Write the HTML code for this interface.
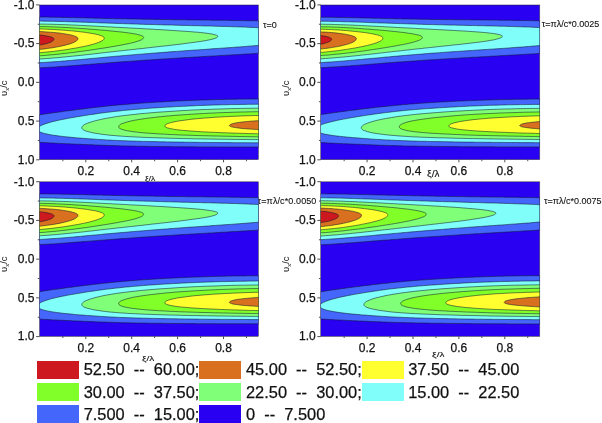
<!DOCTYPE html>
<html><head><meta charset="utf-8"><title>Contour plots</title>
<style>
html,body{margin:0;padding:0;background:#fff}
body{width:602px;height:423px;position:relative;overflow:hidden;font-family:"Liberation Sans",sans-serif;color:#111}
.t{position:absolute;z-index:2;white-space:pre;line-height:1;-webkit-text-stroke:0.25px #111}
.yt{font-size:12px;text-align:right;width:40px}
.xt{font-size:12px;text-align:center;width:40px}
.lab{font-size:9px;-webkit-text-stroke:0.1px #111}
.ax{font-size:7px;transform-origin:0 0;-webkit-text-stroke:0.1px #111}
.yl{font-size:9.4px;transform:rotate(-90deg);transform-origin:0 0;-webkit-text-stroke:0}
.yl sub{font-size:6px;vertical-align:-2px;line-height:0}
.lg{font-size:16.4px}
.sw{position:absolute;width:42px;height:18px}
</style></head><body>
<svg width="602" height="423" viewBox="0 0 602 423" style="position:absolute;left:0;top:0;z-index:1">
<defs><clipPath id="pc0"><rect x="0.4" y="0" width="218.90" height="154.70"/></clipPath><clipPath id="pc1"><rect x="0.3" y="0" width="219.00" height="154.70"/></clipPath></defs>
<g transform="translate(39.20 5.00)">
<g clip-path="url(#pc0)">
<rect x="0" y="0" width="219.30" height="154.70" fill="#2a00f2"/>
<path d="M-1 12.1L2 12.1L5 12.1L8 12.1L11 12.2L14 12.2L17 12.3L20 12.3L23 12.4L26 12.4L29 12.5L32 12.6L35 12.6L38 12.7L41 12.8L44 12.8L47 12.9L50 13L53 13.1L56 13.2L59 13.2L62 13.3L65 13.4L68 13.5L71 13.5L74 13.6L77 13.7L80 13.7L83 13.8L86 13.8L89 13.9L92 14L95 14L98 14.1L101 14.1L104 14.2L107 14.2L110 14.3L113 14.3L116 14.4L119 14.4L122 14.5L125 14.5L128 14.6L131 14.6L134 14.7L137 14.7L140 14.7L143 14.8L146 14.8L149 14.9L152 14.9L155 14.9L158 15L161 15L164 15L167 15.1L170 15.1L173 15.2L176 15.2L179 15.2L182 15.3L185 15.3L188 15.3L191 15.4L194 15.4L197 15.5L200 15.5L203 15.6L206 15.6L209 15.7L212 15.7L215 15.8L218 15.8L220.2 15.9L220.2 48.2L218 48.4L215 48.6L212 48.8L209 48.9L206 49.1L203 49.3L200 49.5L197 49.7L194 49.8L191 50L188 50.2L185 50.4L182 50.5L179 50.7L176 50.9L173 51.1L170 51.2L167 51.4L164 51.6L161 51.8L158 51.9L155 52.1L152 52.3L149 52.5L146 52.6L143 52.8L140 53L137 53.2L134 53.4L131 53.6L128 53.8L125 53.9L122 54.1L119 54.3L116 54.5L113 54.7L110 54.9L107 55.1L104 55.3L101 55.5L98 55.8L95 56L92 56.2L89 56.4L86 56.6L83 56.8L80 57L77 57.3L74 57.5L71 57.7L68 57.9L65 58.2L62 58.4L59 58.6L56 58.9L53 59.1L50 59.4L47 59.6L44 59.8L41 60.1L38 60.3L35 60.5L32 60.8L29 61L26 61.2L23 61.4L20 61.6L17 61.9L14 62.1L11 62.2L8 62.4L5 62.6L2 62.8L-1 62.9Z" fill="#4466fa" stroke="#101830" stroke-width="0.55" stroke-linejoin="round"/>
<path d="M-1 16.1L2 16.1L5 16.2L8 16.2L11 16.3L14 16.3L17 16.4L20 16.5L23 16.5L26 16.6L29 16.7L32 16.8L35 16.9L38 17L41 17.1L44 17.2L47 17.3L50 17.4L53 17.5L56 17.6L59 17.8L62 17.9L65 18L68 18.1L71 18.2L74 18.3L77 18.4L80 18.5L83 18.6L86 18.7L89 18.8L92 18.9L95 19L98 19.1L101 19.2L104 19.3L107 19.4L110 19.4L113 19.5L116 19.6L119 19.7L122 19.8L125 19.9L128 20L131 20L134 20.1L137 20.2L140 20.3L143 20.4L146 20.4L149 20.5L152 20.6L155 20.7L158 20.7L161 20.8L164 20.9L167 21L170 21L173 21.1L176 21.2L179 21.3L182 21.4L185 21.4L188 21.5L191 21.6L194 21.7L197 21.8L200 21.9L203 22L206 22.1L209 22.3L212 22.4L215 22.5L218 22.7L220.2 22.8L220.2 40.3L218 40.5L215 40.7L212 41L209 41.2L206 41.5L203 41.7L200 41.9L197 42.1L194 42.4L191 42.6L188 42.8L185 43L182 43.2L179 43.4L176 43.6L173 43.8L170 44.1L167 44.3L164 44.5L161 44.7L158 44.9L155 45.1L152 45.3L149 45.5L146 45.7L143 46L140 46.2L137 46.4L134 46.6L131 46.8L128 47.1L125 47.3L122 47.5L119 47.8L116 48L113 48.2L110 48.5L107 48.7L104 49L101 49.2L98 49.4L95 49.7L92 49.9L89 50.2L86 50.5L83 50.7L80 51L77 51.2L74 51.5L71 51.8L68 52L65 52.3L62 52.6L59 52.9L56 53.2L53 53.4L50 53.7L47 54L44 54.3L41 54.6L38 54.8L35 55.1L32 55.4L29 55.6L26 55.9L23 56.1L20 56.4L17 56.6L14 56.8L11 57L8 57.2L5 57.4L2 57.6L-1 57.8Z" fill="#80fffa" stroke="#101830" stroke-width="0.55" stroke-linejoin="round"/>
<path d="M-1 19L2 19.1L5 19.1L8 19.2L11 19.2L14 19.3L17 19.4L20 19.5L23 19.6L26 19.7L29 19.8L32 20L35 20.1L38 20.2L41 20.4L44 20.5L47 20.7L50 20.8L53 21L56 21.1L59 21.3L62 21.5L65 21.6L68 21.8L71 21.9L74 22.1L77 22.3L80 22.4L83 22.6L86 22.7L89 22.9L92 23.1L95 23.2L98 23.4L101 23.5L104 23.7L107 23.9L110 24L113 24.2L116 24.4L119 24.6L122 24.7L125 24.9L128 25.1L131 25.3L134 25.5L137 25.7L140 25.9L143 26.1L146 26.3L149 26.5L152 26.7L155 27L158 27.2L161 27.5L164 27.8L167 28.2L170 28.6L173 29.1L176 29.8L176.5 29.9L177.3 30.2L177.8 30.5L178.2 30.7L178.3 30.9L178.5 31.1L178.5 31.3L178.5 31.3L178.5 31.6L178.3 31.8L178.2 32.1L177.8 32.4L177.3 32.7L176.5 33.1L176 33.3L173 34.2L170 34.9L167 35.5L164 36L161 36.5L158 36.9L155 37.3L152 37.7L149 38.1L146 38.5L143 38.9L140 39.3L137 39.6L134 40L131 40.3L128 40.7L125 41L122 41.3L119 41.7L116 42L113 42.3L110 42.7L107 43L104 43.4L101 43.7L98 44L95 44.4L92 44.7L89 45L86 45.3L83 45.7L80 46L77 46.3L74 46.7L71 47L68 47.3L65 47.7L62 48L59 48.4L56 48.7L53 49.1L50 49.4L47 49.7L44 50.1L41 50.4L38 50.7L35 51L32 51.3L29 51.6L26 51.9L23 52.2L20 52.5L17 52.8L14 53L11 53.3L8 53.5L5 53.7L2 53.9L-1 54.1Z" fill="#80ff78" stroke="#101830" stroke-width="0.55" stroke-linejoin="round"/>
<path d="M-1 21.5L2 21.6L5 21.6L8 21.7L11 21.8L14 21.9L17 22L20 22.2L23 22.3L26 22.5L29 22.6L32 22.8L35 23L38 23.2L41 23.4L44 23.6L47 23.8L50 24.1L53 24.3L56 24.5L59 24.8L62 25.1L65 25.3L68 25.6L71 25.9L74 26.2L77 26.5L80 26.8L83 27.1L86 27.5L89 27.9L92 28.3L95 28.8L98 29.4L101 30.2L102.4 30.7L103.2 31L103.7 31.3L104 31.6L104 31.6L104.2 31.9L104.4 32.1L104.4 32.4L104.4 32.4L104.4 32.7L104.2 33.1L104 33.4L104 33.4L103.7 33.8L103.2 34.2L102.4 34.7L101 35.3L98 36.4L95 37.3L92 38L89 38.7L86 39.3L83 39.9L80 40.4L77 41L74 41.5L71 42L68 42.5L65 43L62 43.4L59 43.9L56 44.4L53 44.8L50 45.3L47 45.7L44 46.1L41 46.5L38 46.9L35 47.3L32 47.7L29 48L26 48.4L23 48.7L20 49.1L17 49.4L14 49.7L11 49.9L8 50.2L5 50.5L2 50.7L-1 50.9Z" fill="#80ff28" stroke="#101830" stroke-width="0.55" stroke-linejoin="round"/>
<path d="M-1 23.9L2 24L5 24.1L8 24.2L11 24.4L14 24.5L17 24.7L20 24.9L23 25.1L26 25.3L29 25.6L32 25.8L35 26.1L38 26.4L41 26.8L44 27.1L47 27.5L50 28L53 28.5L56 29L59 29.7L62 30.7L63 31.1L63.8 31.5L64.3 31.9L64.7 32.2L64.8 32.5L65 32.8L65 33.1L65 33.1L65 33.5L64.8 33.9L64.7 34.2L64.3 34.7L63.8 35.2L63 35.7L62 36.3L59 37.6L56 38.6L53 39.5L50 40.3L47 41L44 41.6L41 42.2L38 42.8L35 43.3L32 43.8L29 44.3L26 44.8L23 45.2L20 45.6L17 46L14 46.4L11 46.7L8 47L5 47.3L2 47.6L-1 47.8Z" fill="#ffff30" stroke="#101830" stroke-width="0.55" stroke-linejoin="round"/>
<path d="M-1 26.5L2 26.6L5 26.8L8 27L11 27.2L14 27.4L17 27.7L20 28L23 28.4L26 28.9L29 29.4L32 30L35 30.9L36.7 31.5L37.5 32L38 32.3L38 32.3L38.4 32.7L38.6 33L38.7 33.3L38.7 33.6L38.7 33.6L38.7 34L38.6 34.4L38.4 34.8L38 35.2L38 35.2L37.5 35.7L36.7 36.3L35 37.3L32 38.5L29 39.4L26 40.2L23 40.9L20 41.6L17 42.1L14 42.7L11 43.1L8 43.5L5 43.9L2 44.3L-1 44.5Z" fill="#d87020" stroke="#101830" stroke-width="0.55" stroke-linejoin="round"/>
<path d="M-1 29.9L2 30.1L5 30.5L8 31L11 31.7L12.7 32.2L13.5 32.6L14 33L14 33L14.4 33.3L14.6 33.5L14.7 33.8L14.7 34.1L14.7 34.1L14.7 34.5L14.6 34.8L14.4 35.2L14 35.6L14 35.6L13.5 36L12.7 36.6L11 37.4L8 38.4L5 39.2L2 39.8L-1 40.3Z" fill="#cc181e" stroke="#101830" stroke-width="0.55" stroke-linejoin="round"/>
<path d="M-1 110.1L2 109.6L5 109.1L8 108.7L11 108.2L14 107.8L17 107.4L20 107L23 106.6L26 106.1L29 105.8L32 105.4L35 105L38 104.6L41 104.2L44 103.9L47 103.5L50 103.1L53 102.8L56 102.4L59 102.1L62 101.8L65 101.4L68 101.1L71 100.8L74 100.5L77 100.2L80 99.9L83 99.7L86 99.4L89 99.2L92 98.9L95 98.7L98 98.4L101 98.2L104 98L107 97.8L110 97.6L113 97.4L116 97.2L119 97L122 96.9L125 96.7L128 96.5L131 96.4L134 96.2L137 96.1L140 95.9L143 95.8L146 95.7L149 95.5L152 95.4L155 95.3L158 95.2L161 95.1L164 95L167 94.9L170 94.8L173 94.7L176 94.6L179 94.5L182 94.5L185 94.4L188 94.3L191 94.3L194 94.2L197 94.2L200 94.1L203 94.1L206 94.1L209 94L212 94L215 94L218 94L220.2 94L220.2 142L218 142L215 142L212 142L209 142L206 142L203 142L200 142L197 142L194 142L191 142L188 142L185 142L182 142L179 142L176 141.9L173 141.9L170 141.9L167 141.9L164 141.9L161 141.9L158 141.9L155 141.8L152 141.8L149 141.8L146 141.8L143 141.7L140 141.7L137 141.7L134 141.7L131 141.6L128 141.6L125 141.6L122 141.5L119 141.5L116 141.5L113 141.4L110 141.4L107 141.3L104 141.3L101 141.2L98 141.2L95 141.1L92 141.1L89 141L86 140.9L83 140.9L80 140.8L77 140.7L74 140.6L71 140.5L68 140.4L65 140.3L62 140.2L59 140.1L56 140L53 139.8L50 139.7L47 139.6L44 139.5L41 139.3L38 139.2L35 139.1L32 138.9L29 138.8L26 138.7L23 138.5L20 138.4L17 138.2L14 138.1L11 137.9L8 137.7L5 137.6L2 137.4L-1 137.2Z" fill="#4466fa" stroke="#101830" stroke-width="0.55" stroke-linejoin="round"/>
<path d="M-1 122.4L2 120.4L5 119.2L8 118.2L11 117.3L14 116.5L17 115.8L20 115.1L23 114.5L26 113.9L29 113.3L32 112.8L35 112.3L38 111.7L41 111.3L44 110.8L47 110.3L50 109.8L53 109.4L56 109L59 108.5L62 108.1L65 107.7L68 107.3L71 107L74 106.6L77 106.3L80 106L83 105.6L86 105.3L89 105.1L92 104.8L95 104.5L98 104.3L101 104L104 103.8L107 103.5L110 103.3L113 103.1L116 102.9L119 102.7L122 102.5L125 102.3L128 102.1L131 102L134 101.8L137 101.6L140 101.5L143 101.3L146 101.2L149 101L152 100.9L155 100.8L158 100.6L161 100.5L164 100.4L167 100.3L170 100.2L173 100.1L176 100L179 99.9L182 99.8L185 99.8L188 99.7L191 99.6L194 99.6L197 99.5L200 99.5L203 99.4L206 99.4L209 99.3L212 99.3L215 99.3L218 99.2L220.2 99.2L220.2 137.8L218 137.8L215 137.8L212 137.8L209 137.7L206 137.7L203 137.7L200 137.7L197 137.7L194 137.7L191 137.6L188 137.6L185 137.6L182 137.6L179 137.5L176 137.5L173 137.5L170 137.5L167 137.4L164 137.4L161 137.4L158 137.3L155 137.3L152 137.2L149 137.2L146 137.2L143 137.1L140 137.1L137 137L134 137L131 136.9L128 136.9L125 136.8L122 136.8L119 136.7L116 136.6L113 136.6L110 136.5L107 136.4L104 136.4L101 136.3L98 136.2L95 136.1L92 136L89 135.9L86 135.8L83 135.7L80 135.6L77 135.4L74 135.3L71 135.1L68 135L65 134.8L62 134.6L59 134.4L56 134.2L53 134L50 133.8L47 133.6L44 133.3L41 133.1L38 132.9L35 132.6L32 132.3L29 132L26 131.7L23 131.4L20 131L17 130.6L14 130.2L11 129.7L8 129.1L5 128.4L2 127.5L-1 125.9Z" fill="#80fffa" stroke="#101830" stroke-width="0.55" stroke-linejoin="round"/>
<path d="M42.6 122.8L42.6 122.4L42.8 122L43 121.6L43.3 121.1L43.8 120.6L44.6 120L45.6 119.4L48.6 118.1L51.6 117.1L54.6 116.2L57.6 115.4L60.6 114.7L63.6 114L66.6 113.4L69.6 112.9L72.6 112.4L75.6 111.9L78.6 111.4L81.6 111L84.6 110.6L87.6 110.3L90.6 109.9L93.6 109.6L96.6 109.3L99.6 108.9L102.6 108.6L105.6 108.4L108.6 108.1L111.6 107.8L114.6 107.6L117.6 107.3L120.6 107.1L123.6 106.9L126.6 106.7L129.6 106.5L132.6 106.3L135.6 106.1L138.6 105.9L141.6 105.7L144.6 105.5L147.6 105.4L150.6 105.2L153.6 105L156.6 104.9L159.6 104.8L162.6 104.6L165.6 104.5L168.6 104.4L171.6 104.3L174.6 104.2L177.6 104.1L180.6 104L183.6 103.9L186.6 103.8L189.6 103.7L192.6 103.6L195.6 103.5L198.6 103.5L201.6 103.4L204.6 103.4L207.6 103.3L210.6 103.3L213.6 103.2L216.6 103.2L219.6 103.1L220.2 103.1L220.2 134.7L219.6 134.7L216.6 134.6L213.6 134.6L210.6 134.6L207.6 134.5L204.6 134.5L201.6 134.5L198.6 134.4L195.6 134.4L192.6 134.4L189.6 134.3L186.6 134.3L183.6 134.2L180.6 134.2L177.6 134.2L174.6 134.1L171.6 134.1L168.6 134L165.6 134L162.6 133.9L159.6 133.9L156.6 133.8L153.6 133.8L150.6 133.7L147.6 133.6L144.6 133.6L141.6 133.5L138.6 133.4L135.6 133.3L132.6 133.3L129.6 133.2L126.6 133.1L123.6 133L120.6 132.9L117.6 132.8L114.6 132.7L111.6 132.6L108.6 132.5L105.6 132.4L102.6 132.3L99.6 132.1L96.6 132L93.6 131.8L90.6 131.7L87.6 131.5L84.6 131.3L81.6 131.1L78.6 130.9L75.6 130.6L72.6 130.4L69.6 130.1L66.6 129.7L63.6 129.4L60.6 128.9L57.6 128.5L54.6 128L51.6 127.3L48.6 126.6L45.6 125.6L44.6 125.1L43.8 124.6L43.3 124.2L43 123.8L42.8 123.5L42.6 123.2L42.6 122.8Z" fill="#80ff78" stroke="#101830" stroke-width="0.55" stroke-linejoin="round"/>
<path d="M79.5 121.8L79.5 121.4L79.7 121.1L79.8 120.7L80.2 120.3L80.7 119.9L81.5 119.3L82.5 118.8L85.5 117.7L88.5 116.8L91.5 116.1L94.5 115.4L97.5 114.9L100.5 114.4L103.5 113.9L106.5 113.5L109.5 113.1L112.5 112.7L115.5 112.4L118.5 112L121.5 111.7L124.5 111.4L127.5 111.1L130.5 110.9L133.5 110.6L136.5 110.3L139.5 110.1L142.5 109.9L145.5 109.7L148.5 109.5L151.5 109.3L154.5 109.1L157.5 108.9L160.5 108.7L163.5 108.6L166.5 108.4L169.5 108.2L172.5 108.1L175.5 108L178.5 107.8L181.5 107.7L184.5 107.6L187.5 107.5L190.5 107.4L193.5 107.3L196.5 107.2L199.5 107.1L202.5 107L205.5 107L208.5 106.9L211.5 106.8L214.5 106.8L217.5 106.7L220.2 106.7L220.2 131.8L217.5 131.8L214.5 131.7L211.5 131.7L208.5 131.6L205.5 131.6L202.5 131.5L199.5 131.5L196.5 131.4L193.5 131.4L190.5 131.3L187.5 131.2L184.5 131.2L181.5 131.1L178.5 131L175.5 131L172.5 130.9L169.5 130.8L166.5 130.7L163.5 130.7L160.5 130.6L157.5 130.5L154.5 130.4L151.5 130.3L148.5 130.2L145.5 130.1L142.5 130L139.5 129.9L136.5 129.7L133.5 129.6L130.5 129.5L127.5 129.3L124.5 129.1L121.5 129L118.5 128.8L115.5 128.6L112.5 128.4L109.5 128.2L106.5 128L103.5 127.7L100.5 127.4L97.5 127.1L94.5 126.7L91.5 126.3L88.5 125.8L85.5 125.2L82.5 124.3L81.5 123.9L80.7 123.5L80.2 123.1L79.8 122.8L79.7 122.5L79.5 122.2L79.5 121.8Z" fill="#80ff28" stroke="#101830" stroke-width="0.55" stroke-linejoin="round"/>
<path d="M125.7 121L125.7 120.7L125.9 120.4L126 120.1L126.4 119.8L126.9 119.4L127.7 119L128.7 118.5L131.7 117.6L134.7 116.9L137.7 116.3L140.7 115.8L143.7 115.4L146.7 115L149.7 114.6L152.7 114.2L155.7 113.9L158.7 113.6L161.7 113.4L164.7 113.1L167.7 112.9L170.7 112.7L173.7 112.4L176.7 112.2L179.7 112.1L182.7 111.9L185.7 111.7L188.7 111.6L191.7 111.4L194.7 111.3L197.7 111.2L200.7 111L203.7 110.9L206.7 110.8L209.7 110.7L212.7 110.6L215.7 110.5L218.7 110.5L220.2 110.4L220.2 128.8L218.7 128.8L215.7 128.7L212.7 128.6L209.7 128.6L206.7 128.5L203.7 128.4L200.7 128.3L197.7 128.2L194.7 128.1L191.7 128L188.7 127.9L185.7 127.8L182.7 127.7L179.7 127.6L176.7 127.4L173.7 127.3L170.7 127.2L167.7 127L164.7 126.9L161.7 126.7L158.7 126.5L155.7 126.3L152.7 126.1L149.7 125.9L146.7 125.6L143.7 125.4L140.7 125.1L137.7 124.7L134.7 124.3L131.7 123.7L128.7 123L127.7 122.7L126.9 122.3L126.4 122L126 121.8L125.9 121.5L125.7 121.3L125.7 121Z" fill="#ffff30" stroke="#101830" stroke-width="0.55" stroke-linejoin="round"/>
<path d="M190.2 120.6L190.2 120.3L190.4 120.1L190.6 119.9L190.9 119.6L191.4 119.4L192.2 119L193.2 118.7L196.2 118L199.2 117.5L202.2 117.1L205.2 116.8L208.2 116.5L211.2 116.2L214.2 116L217.2 115.8L220.2 115.6L220.2 115.6L220.2 124.7L220.2 124.7L217.2 124.5L214.2 124.3L211.2 124.1L208.2 123.9L205.2 123.7L202.2 123.4L199.2 123L196.2 122.6L193.2 122.1L192.2 121.8L191.4 121.5L190.9 121.3L190.6 121.1L190.4 120.9L190.2 120.8L190.2 120.6Z" fill="#d87020" stroke="#101830" stroke-width="0.55" stroke-linejoin="round"/>
</g>
<rect x="0.15" y="0" width="219.15" height="154.70" fill="none" stroke="#202030" stroke-width="0.5"/>
<path d="M0.15 -0.10h-3.2M0.15 19.26h-1.6M0.15 38.62h-3.2M0.15 57.99h-1.6M0.15 77.35h-3.2M0.15 96.71h-1.6M0.15 116.08h-3.2M0.15 135.44h-1.6M0.15 154.80h-3.2M23.65 154.70v1.5M46.60 154.70v2.6M69.55 154.70v1.5M92.50 154.70v2.6M115.45 154.70v1.5M138.40 154.70v2.6M161.35 154.70v1.5M184.30 154.70v2.6M207.25 154.70v1.5" stroke="#222" stroke-width="0.8" fill="none"/>
</g>
<g transform="translate(320.50 5.00)">
<g clip-path="url(#pc1)">
<rect x="0" y="0" width="219.30" height="154.70" fill="#2a00f2"/>
<path d="M-1 12.2L2 12.2L5 12.2L8 12.3L11 12.3L14 12.3L17 12.4L20 12.4L23 12.5L26 12.5L29 12.6L32 12.7L35 12.7L38 12.8L41 12.9L44 13L47 13L50 13.1L53 13.2L56 13.3L59 13.3L62 13.4L65 13.5L68 13.6L71 13.6L74 13.7L77 13.8L80 13.8L83 13.9L86 13.9L89 14L92 14.1L95 14.1L98 14.2L101 14.2L104 14.3L107 14.3L110 14.4L113 14.4L116 14.5L119 14.5L122 14.5L125 14.6L128 14.6L131 14.6L134 14.7L137 14.7L140 14.7L143 14.8L146 14.8L149 14.8L152 14.9L155 14.9L158 14.9L161 15L164 15L167 15L170 15.1L173 15.1L176 15.1L179 15.2L182 15.2L185 15.2L188 15.3L191 15.3L194 15.4L197 15.4L200 15.4L203 15.5L206 15.5L209 15.6L212 15.6L215 15.7L218 15.8L220.2 15.8L220.2 48.3L218 48.5L215 48.7L212 48.9L209 49L206 49.2L203 49.4L200 49.6L197 49.8L194 49.9L191 50.1L188 50.3L185 50.5L182 50.6L179 50.8L176 51L173 51.1L170 51.3L167 51.5L164 51.7L161 51.8L158 52L155 52.2L152 52.3L149 52.5L146 52.7L143 52.8L140 53L137 53.2L134 53.4L131 53.5L128 53.7L125 53.9L122 54.1L119 54.3L116 54.5L113 54.7L110 54.8L107 55L104 55.2L101 55.4L98 55.6L95 55.9L92 56.1L89 56.3L86 56.5L83 56.7L80 56.9L77 57.1L74 57.4L71 57.6L68 57.8L65 58L62 58.3L59 58.5L56 58.8L53 59L50 59.2L47 59.5L44 59.7L41 59.9L38 60.2L35 60.4L32 60.6L29 60.9L26 61.1L23 61.3L20 61.5L17 61.7L14 61.9L11 62.1L8 62.3L5 62.5L2 62.6L-1 62.8Z" fill="#4466fa" stroke="#101830" stroke-width="0.55" stroke-linejoin="round"/>
<path d="M-1 16.3L2 16.3L5 16.3L8 16.3L11 16.4L14 16.4L17 16.5L20 16.6L23 16.7L26 16.8L29 16.8L32 16.9L35 17L38 17.1L41 17.2L44 17.3L47 17.5L50 17.6L53 17.7L56 17.8L59 17.9L62 18L65 18.1L68 18.2L71 18.3L74 18.4L77 18.5L80 18.6L83 18.7L86 18.8L89 18.9L92 19L95 19.1L98 19.2L101 19.3L104 19.4L107 19.5L110 19.5L113 19.6L116 19.7L119 19.8L122 19.8L125 19.9L128 20L131 20.1L134 20.1L137 20.2L140 20.3L143 20.3L146 20.4L149 20.5L152 20.5L155 20.6L158 20.7L161 20.7L164 20.8L167 20.9L170 20.9L173 21L176 21.1L179 21.2L182 21.2L185 21.3L188 21.4L191 21.5L194 21.6L197 21.7L200 21.8L203 21.9L206 22L209 22.1L212 22.2L215 22.4L218 22.5L220.2 22.6L220.2 40.4L218 40.6L215 40.9L212 41.1L209 41.4L206 41.6L203 41.9L200 42.1L197 42.3L194 42.5L191 42.7L188 43L185 43.2L182 43.4L179 43.6L176 43.8L173 44L170 44.2L167 44.4L164 44.6L161 44.8L158 45L155 45.2L152 45.4L149 45.6L146 45.8L143 46L140 46.2L137 46.4L134 46.6L131 46.8L128 47L125 47.2L122 47.4L119 47.7L116 47.9L113 48.1L110 48.3L107 48.6L104 48.8L101 49.1L98 49.3L95 49.5L92 49.8L89 50L86 50.3L83 50.5L80 50.8L77 51.1L74 51.3L71 51.6L68 51.9L65 52.1L62 52.4L59 52.7L56 53L53 53.3L50 53.5L47 53.8L44 54.1L41 54.4L38 54.6L35 54.9L32 55.2L29 55.4L26 55.7L23 56L20 56.2L17 56.4L14 56.7L11 56.9L8 57.1L5 57.3L2 57.5L-1 57.6Z" fill="#80fffa" stroke="#101830" stroke-width="0.55" stroke-linejoin="round"/>
<path d="M-1 19.2L2 19.2L5 19.3L8 19.3L11 19.4L14 19.5L17 19.6L20 19.7L23 19.8L26 19.9L29 20L32 20.1L35 20.3L38 20.4L41 20.6L44 20.7L47 20.9L50 21L53 21.2L56 21.3L59 21.5L62 21.6L65 21.8L68 22L71 22.1L74 22.3L77 22.5L80 22.6L83 22.8L86 22.9L89 23.1L92 23.2L95 23.4L98 23.6L101 23.7L104 23.9L107 24L110 24.2L113 24.4L116 24.5L119 24.7L122 24.8L125 25L128 25.2L131 25.3L134 25.5L137 25.7L140 25.8L143 26L146 26.2L149 26.4L152 26.6L155 26.8L158 27L161 27.3L164 27.5L167 27.8L170 28.2L173 28.5L176 29L179 29.7L179.8 29.9L180.6 30.2L181.1 30.4L181.4 30.7L181.6 30.9L181.8 31.1L181.8 31.3L181.8 31.3L181.8 31.6L181.6 31.8L181.4 32.1L181.1 32.4L180.6 32.7L179.8 33L179 33.3L176 34.2L173 34.9L170 35.4L167 35.9L164 36.4L161 36.8L158 37.2L155 37.5L152 37.9L149 38.3L146 38.6L143 38.9L140 39.3L137 39.6L134 39.9L131 40.2L128 40.6L125 40.9L122 41.2L119 41.5L116 41.8L113 42.2L110 42.5L107 42.8L104 43.1L101 43.5L98 43.8L95 44.1L92 44.4L89 44.8L86 45.1L83 45.4L80 45.8L77 46.1L74 46.4L71 46.8L68 47.1L65 47.4L62 47.8L59 48.1L56 48.5L53 48.8L50 49.2L47 49.5L44 49.8L41 50.1L38 50.5L35 50.8L32 51.1L29 51.4L26 51.7L23 52L20 52.3L17 52.5L14 52.8L11 53.1L8 53.3L5 53.5L2 53.7L-1 53.9Z" fill="#80ff78" stroke="#101830" stroke-width="0.55" stroke-linejoin="round"/>
<path d="M-1 21.7L2 21.8L5 21.8L8 21.9L11 22L14 22.1L17 22.2L20 22.4L23 22.5L26 22.7L29 22.9L32 23L35 23.2L38 23.4L41 23.6L44 23.9L47 24.1L50 24.3L53 24.6L56 24.8L59 25.1L62 25.3L65 25.6L68 25.9L71 26.2L74 26.5L77 26.8L80 27.2L83 27.5L86 27.9L89 28.4L92 28.8L95 29.4L98 30.1L99.8 30.7L100.6 31.1L101 31.3L101.1 31.4L101.5 31.7L101.7 31.9L101.8 32.2L101.8 32.4L101.8 32.4L101.8 32.8L101.7 33.1L101.5 33.4L101.1 33.8L101 33.9L100.6 34.2L99.8 34.7L98 35.5L95 36.5L92 37.4L89 38.1L86 38.8L83 39.4L80 40L77 40.5L74 41.1L71 41.6L68 42.1L65 42.6L62 43.1L59 43.6L56 44L53 44.5L50 44.9L47 45.4L44 45.8L41 46.2L38 46.6L35 47L32 47.4L29 47.8L26 48.1L23 48.5L20 48.8L17 49.1L14 49.4L11 49.7L8 50L5 50.2L2 50.4L-1 50.6Z" fill="#80ff28" stroke="#101830" stroke-width="0.55" stroke-linejoin="round"/>
<path d="M-1 24.2L2 24.3L5 24.3L8 24.5L11 24.6L14 24.8L17 24.9L20 25.1L23 25.4L26 25.6L29 25.9L32 26.2L35 26.5L38 26.8L41 27.2L44 27.5L47 28L50 28.5L53 29L56 29.7L59 30.6L60.3 31.1L61.1 31.5L61.6 31.9L61.9 32.2L62 32.3L62.1 32.5L62.3 32.8L62.3 33.1L62.3 33.1L62.3 33.5L62.1 33.9L62 34.2L61.9 34.3L61.6 34.7L61.1 35.2L60.3 35.8L59 36.5L56 37.8L53 38.8L50 39.6L47 40.4L44 41.1L41 41.7L38 42.3L35 42.9L32 43.4L29 43.9L26 44.4L23 44.8L20 45.3L17 45.7L14 46L11 46.4L8 46.7L5 47L2 47.3L-1 47.5Z" fill="#ffff30" stroke="#101830" stroke-width="0.55" stroke-linejoin="round"/>
<path d="M-1 26.8L2 27L5 27.1L8 27.3L11 27.5L14 27.8L17 28.1L20 28.5L23 28.9L26 29.4L29 30.1L32 30.9L33.8 31.6L34.6 32L35 32.3L35.1 32.4L35.5 32.7L35.7 33L35.8 33.3L35.8 33.7L35.8 33.7L35.8 34.1L35.7 34.4L35.5 34.8L35.1 35.3L35 35.4L34.6 35.8L33.8 36.4L32 37.4L29 38.6L26 39.5L23 40.3L20 41L17 41.6L14 42.1L11 42.6L8 43.1L5 43.5L2 43.8L-1 44.1Z" fill="#d87020" stroke="#101830" stroke-width="0.55" stroke-linejoin="round"/>
<path d="M-1 30.5L2 30.8L5 31.3L8 32L9.1 32.4L9.9 32.8L10.4 33.1L10.7 33.4L10.9 33.6L11 33.7L11.1 33.9L11.1 34.2L11.1 34.2L11.1 34.5L11 34.8L10.9 34.9L10.7 35.2L10.4 35.6L9.9 36L9.1 36.5L8 37.1L5 38.1L2 38.9L-1 39.5Z" fill="#cc181e" stroke="#101830" stroke-width="0.55" stroke-linejoin="round"/>
<path d="M-1 109.8L2 109.3L5 108.9L8 108.4L11 108L14 107.6L17 107.2L20 106.8L23 106.4L26 106L29 105.6L32 105.2L35 104.9L38 104.5L41 104.1L44 103.7L47 103.4L50 103L53 102.7L56 102.3L59 102L62 101.7L65 101.4L68 101.1L71 100.8L74 100.5L77 100.2L80 99.9L83 99.6L86 99.4L89 99.1L92 98.9L95 98.7L98 98.4L101 98.2L104 98L107 97.8L110 97.6L113 97.5L116 97.3L119 97.1L122 96.9L125 96.8L128 96.6L131 96.4L134 96.3L137 96.1L140 96L143 95.9L146 95.7L149 95.6L152 95.5L155 95.4L158 95.3L161 95.2L164 95.1L167 95L170 94.9L173 94.8L176 94.7L179 94.6L182 94.6L185 94.5L188 94.4L191 94.4L194 94.3L197 94.3L200 94.3L203 94.2L206 94.2L209 94.1L212 94.1L215 94.1L218 94.1L220.2 94.1L220.2 141.9L218 141.9L215 141.9L212 141.9L209 141.9L206 141.9L203 141.9L200 141.9L197 141.9L194 141.9L191 141.9L188 141.9L185 141.9L182 141.9L179 141.9L176 141.9L173 141.8L170 141.8L167 141.8L164 141.8L161 141.8L158 141.8L155 141.8L152 141.7L149 141.7L146 141.7L143 141.7L140 141.7L137 141.6L134 141.6L131 141.6L128 141.5L125 141.5L122 141.5L119 141.4L116 141.4L113 141.4L110 141.3L107 141.3L104 141.3L101 141.2L98 141.2L95 141.1L92 141.1L89 141L86 141L83 140.9L80 140.8L77 140.7L74 140.6L71 140.6L68 140.5L65 140.4L62 140.3L59 140.2L56 140L53 139.9L50 139.8L47 139.7L44 139.6L41 139.4L38 139.3L35 139.2L32 139.1L29 138.9L26 138.8L23 138.7L20 138.6L17 138.4L14 138.3L11 138.1L8 138L5 137.8L2 137.6L-1 137.5Z" fill="#4466fa" stroke="#101830" stroke-width="0.55" stroke-linejoin="round"/>
<path d="M-1 120.5L2 119.3L5 118.3L8 117.4L11 116.7L14 116L17 115.3L20 114.7L23 114.1L26 113.6L29 113L32 112.5L35 112L38 111.5L41 111L44 110.6L47 110.1L50 109.7L53 109.2L56 108.8L59 108.4L62 108L65 107.6L68 107.3L71 106.9L74 106.6L77 106.2L80 105.9L83 105.6L86 105.3L89 105L92 104.8L95 104.5L98 104.3L101 104L104 103.8L107 103.6L110 103.4L113 103.2L116 103L119 102.8L122 102.6L125 102.4L128 102.2L131 102.1L134 101.9L137 101.7L140 101.6L143 101.4L146 101.3L149 101.1L152 101L155 100.9L158 100.8L161 100.7L164 100.5L167 100.4L170 100.3L173 100.2L176 100.2L179 100.1L182 100L185 99.9L188 99.8L191 99.8L194 99.7L197 99.7L200 99.6L203 99.6L206 99.5L209 99.5L212 99.4L215 99.4L218 99.4L220.2 99.4L220.2 137.7L218 137.7L215 137.7L212 137.6L209 137.6L206 137.6L203 137.6L200 137.6L197 137.5L194 137.5L191 137.5L188 137.5L185 137.5L182 137.4L179 137.4L176 137.4L173 137.4L170 137.3L167 137.3L164 137.3L161 137.2L158 137.2L155 137.2L152 137.1L149 137.1L146 137.1L143 137L140 137L137 136.9L134 136.9L131 136.8L128 136.8L125 136.7L122 136.7L119 136.6L116 136.6L113 136.5L110 136.5L107 136.4L104 136.3L101 136.3L98 136.2L95 136.1L92 136L89 135.9L86 135.8L83 135.7L80 135.6L77 135.5L74 135.3L71 135.2L68 135L65 134.9L62 134.7L59 134.5L56 134.4L53 134.2L50 134L47 133.7L44 133.5L41 133.3L38 133L35 132.8L32 132.6L29 132.3L26 132L23 131.7L20 131.4L17 131.1L14 130.7L11 130.3L8 129.8L5 129.3L2 128.6L-1 127.7Z" fill="#80fffa" stroke="#101830" stroke-width="0.55" stroke-linejoin="round"/>
<path d="M40.8 122.8L40.8 122.4L40.9 122L41.1 121.6L41.5 121.2L42 120.7L42.8 120.1L43.8 119.5L46.8 118.2L49.8 117.2L52.8 116.3L55.8 115.5L58.8 114.8L61.8 114.2L64.8 113.6L67.8 113.1L70.8 112.6L73.8 112.1L76.8 111.6L79.8 111.2L82.8 110.8L85.8 110.4L88.8 110.1L91.8 109.7L94.8 109.4L97.8 109.1L100.8 108.8L103.8 108.6L106.8 108.3L109.8 108.1L112.8 107.8L115.8 107.6L118.8 107.4L121.8 107.1L124.8 106.9L127.8 106.7L130.8 106.5L133.8 106.3L136.8 106.1L139.8 106L142.8 105.8L145.8 105.6L148.8 105.5L151.8 105.3L154.8 105.2L157.8 105L160.8 104.9L163.8 104.8L166.8 104.6L169.8 104.5L172.8 104.4L175.8 104.3L178.8 104.2L181.8 104.1L184.8 104L187.8 103.9L190.8 103.9L193.8 103.8L196.8 103.7L199.8 103.6L202.8 103.6L205.8 103.5L208.8 103.5L211.8 103.4L214.8 103.4L217.8 103.4L220.2 103.3L220.2 134.5L217.8 134.5L214.8 134.5L211.8 134.4L208.8 134.4L205.8 134.4L202.8 134.3L199.8 134.3L196.8 134.3L193.8 134.2L190.8 134.2L187.8 134.1L184.8 134.1L181.8 134.1L178.8 134L175.8 134L172.8 133.9L169.8 133.9L166.8 133.8L163.8 133.8L160.8 133.7L157.8 133.7L154.8 133.6L151.8 133.6L148.8 133.5L145.8 133.5L142.8 133.4L139.8 133.3L136.8 133.3L133.8 133.2L130.8 133.1L127.8 133L124.8 132.9L121.8 132.8L118.8 132.8L115.8 132.7L112.8 132.6L109.8 132.5L106.8 132.4L103.8 132.3L100.8 132.2L97.8 132L94.8 131.9L91.8 131.8L88.8 131.6L85.8 131.4L82.8 131.2L79.8 131L76.8 130.8L73.8 130.5L70.8 130.3L67.8 130L64.8 129.7L61.8 129.3L58.8 128.9L55.8 128.5L52.8 128L49.8 127.4L46.8 126.6L43.8 125.6L42.8 125.2L42 124.7L41.5 124.3L41.1 123.9L40.9 123.5L40.8 123.2L40.8 122.8Z" fill="#80ff78" stroke="#101830" stroke-width="0.55" stroke-linejoin="round"/>
<path d="M78.8 121.8L78.8 121.4L79 121.1L79.1 120.7L79.5 120.3L80 119.9L80.8 119.4L81.8 118.8L84.8 117.7L87.8 116.8L90.8 116.1L93.8 115.5L96.8 115L99.8 114.5L102.8 114.1L105.8 113.7L108.8 113.3L111.8 112.9L114.8 112.6L117.8 112.3L120.8 112L123.8 111.7L126.8 111.4L129.8 111.1L132.8 110.9L135.8 110.6L138.8 110.4L141.8 110.1L144.8 109.9L147.8 109.7L150.8 109.5L153.8 109.3L156.8 109.2L159.8 109L162.8 108.8L165.8 108.7L168.8 108.5L171.8 108.4L174.8 108.3L177.8 108.1L180.8 108L183.8 107.9L186.8 107.8L189.8 107.7L192.8 107.6L195.8 107.5L198.8 107.4L201.8 107.3L204.8 107.2L207.8 107.2L210.8 107.1L213.8 107.1L216.8 107L219.8 106.9L220.2 106.9L220.2 131.6L219.8 131.6L216.8 131.6L213.8 131.5L210.8 131.5L207.8 131.4L204.8 131.4L201.8 131.3L198.8 131.2L195.8 131.2L192.8 131.1L189.8 131.1L186.8 131L183.8 130.9L180.8 130.9L177.8 130.8L174.8 130.7L171.8 130.7L168.8 130.6L165.8 130.5L162.8 130.4L159.8 130.4L156.8 130.3L153.8 130.2L150.8 130.1L147.8 130L144.8 129.9L141.8 129.8L138.8 129.6L135.8 129.5L132.8 129.4L129.8 129.2L126.8 129.1L123.8 128.9L120.8 128.8L117.8 128.6L114.8 128.4L111.8 128.3L108.8 128.1L105.8 127.8L102.8 127.6L99.8 127.3L96.8 127L93.8 126.7L90.8 126.3L87.8 125.8L84.8 125.2L81.8 124.3L80.8 123.9L80 123.5L79.5 123.1L79.1 122.8L79 122.5L78.8 122.2L78.8 121.8Z" fill="#80ff28" stroke="#101830" stroke-width="0.55" stroke-linejoin="round"/>
<path d="M128.4 121L128.4 120.7L128.6 120.4L128.8 120.1L129.1 119.8L129.6 119.4L130.4 119L131.4 118.6L134.4 117.7L137.4 117L140.4 116.4L143.4 115.9L146.4 115.5L149.4 115.1L152.4 114.7L155.4 114.4L158.4 114.1L161.4 113.8L164.4 113.6L167.4 113.3L170.4 113.1L173.4 112.9L176.4 112.7L179.4 112.5L182.4 112.3L185.4 112.2L188.4 112L191.4 111.8L194.4 111.7L197.4 111.6L200.4 111.4L203.4 111.3L206.4 111.2L209.4 111.1L212.4 111L215.4 110.9L218.4 110.8L220.2 110.8L220.2 128.5L218.4 128.5L215.4 128.4L212.4 128.3L209.4 128.2L206.4 128.2L203.4 128.1L200.4 128L197.4 127.9L194.4 127.8L191.4 127.7L188.4 127.6L185.4 127.4L182.4 127.3L179.4 127.2L176.4 127.1L173.4 126.9L170.4 126.8L167.4 126.6L164.4 126.5L161.4 126.3L158.4 126.1L155.4 125.9L152.4 125.7L149.4 125.5L146.4 125.2L143.4 124.9L140.4 124.6L137.4 124.2L134.4 123.6L131.4 122.9L130.4 122.6L129.6 122.3L129.1 122L128.8 121.7L128.6 121.5L128.4 121.2L128.4 121Z" fill="#ffff30" stroke="#101830" stroke-width="0.55" stroke-linejoin="round"/>
<path d="M199.3 120.6L199.3 120.3L199.5 120.1L199.7 119.9L200 119.7L200.5 119.4L201.3 119.1L202.3 118.8L205.3 118.1L208.3 117.7L211.3 117.3L214.3 117L217.3 116.7L220.2 116.4L220.2 124L217.3 123.8L214.3 123.5L211.3 123.3L208.3 122.9L205.3 122.5L202.3 122L201.3 121.8L200.5 121.5L200 121.3L199.7 121.1L199.5 120.9L199.3 120.8L199.3 120.6Z" fill="#d87020" stroke="#101830" stroke-width="0.55" stroke-linejoin="round"/>
</g>
<rect x="0.05" y="0" width="219.25" height="154.70" fill="none" stroke="#202030" stroke-width="0.5"/>
<path d="M0.05 -0.10h-3.2M0.05 19.26h-1.6M0.05 38.62h-3.2M0.05 57.99h-1.6M0.05 77.35h-3.2M0.05 96.71h-1.6M0.05 116.08h-3.2M0.05 135.44h-1.6M0.05 154.80h-3.2M23.65 154.70v1.5M46.60 154.70v2.6M69.55 154.70v1.5M92.50 154.70v2.6M115.45 154.70v1.5M138.40 154.70v2.6M161.35 154.70v1.5M184.30 154.70v2.6M207.25 154.70v1.5" stroke="#222" stroke-width="0.8" fill="none"/>
</g>
<g transform="translate(39.20 181.80)">
<g clip-path="url(#pc0)">
<rect x="0" y="0" width="219.30" height="154.70" fill="#2a00f2"/>
<path d="M-1 12.1L2 12.1L5 12.1L8 12.1L11 12.2L14 12.2L17 12.3L20 12.3L23 12.4L26 12.4L29 12.5L32 12.6L35 12.6L38 12.7L41 12.8L44 12.8L47 12.9L50 13L53 13.1L56 13.2L59 13.2L62 13.3L65 13.4L68 13.5L71 13.5L74 13.6L77 13.7L80 13.7L83 13.8L86 13.8L89 13.9L92 14L95 14L98 14.1L101 14.1L104 14.2L107 14.2L110 14.3L113 14.3L116 14.4L119 14.4L122 14.5L125 14.5L128 14.6L131 14.6L134 14.7L137 14.7L140 14.7L143 14.8L146 14.8L149 14.9L152 14.9L155 14.9L158 15L161 15L164 15L167 15.1L170 15.1L173 15.2L176 15.2L179 15.2L182 15.3L185 15.3L188 15.3L191 15.4L194 15.4L197 15.5L200 15.5L203 15.6L206 15.6L209 15.7L212 15.7L215 15.8L218 15.8L220.2 15.9L220.2 48.2L218 48.4L215 48.6L212 48.8L209 48.9L206 49.1L203 49.3L200 49.5L197 49.7L194 49.8L191 50L188 50.2L185 50.4L182 50.5L179 50.7L176 50.9L173 51.1L170 51.2L167 51.4L164 51.6L161 51.8L158 51.9L155 52.1L152 52.3L149 52.5L146 52.6L143 52.8L140 53L137 53.2L134 53.4L131 53.6L128 53.8L125 53.9L122 54.1L119 54.3L116 54.5L113 54.7L110 54.9L107 55.1L104 55.3L101 55.5L98 55.8L95 56L92 56.2L89 56.4L86 56.6L83 56.8L80 57L77 57.3L74 57.5L71 57.7L68 57.9L65 58.2L62 58.4L59 58.6L56 58.9L53 59.1L50 59.4L47 59.6L44 59.8L41 60.1L38 60.3L35 60.5L32 60.8L29 61L26 61.2L23 61.4L20 61.6L17 61.9L14 62.1L11 62.2L8 62.4L5 62.6L2 62.8L-1 62.9Z" fill="#4466fa" stroke="#101830" stroke-width="0.55" stroke-linejoin="round"/>
<path d="M-1 16.1L2 16.1L5 16.2L8 16.2L11 16.3L14 16.3L17 16.4L20 16.5L23 16.5L26 16.6L29 16.7L32 16.8L35 16.9L38 17L41 17.1L44 17.2L47 17.3L50 17.4L53 17.5L56 17.6L59 17.8L62 17.9L65 18L68 18.1L71 18.2L74 18.3L77 18.4L80 18.5L83 18.6L86 18.7L89 18.8L92 18.9L95 19L98 19.1L101 19.2L104 19.3L107 19.4L110 19.4L113 19.5L116 19.6L119 19.7L122 19.8L125 19.9L128 20L131 20L134 20.1L137 20.2L140 20.3L143 20.4L146 20.4L149 20.5L152 20.6L155 20.7L158 20.7L161 20.8L164 20.9L167 21L170 21L173 21.1L176 21.2L179 21.3L182 21.4L185 21.4L188 21.5L191 21.6L194 21.7L197 21.8L200 21.9L203 22L206 22.1L209 22.3L212 22.4L215 22.5L218 22.7L220.2 22.8L220.2 40.3L218 40.5L215 40.7L212 41L209 41.2L206 41.5L203 41.7L200 41.9L197 42.1L194 42.4L191 42.6L188 42.8L185 43L182 43.2L179 43.4L176 43.6L173 43.8L170 44.1L167 44.3L164 44.5L161 44.7L158 44.9L155 45.1L152 45.3L149 45.5L146 45.7L143 46L140 46.2L137 46.4L134 46.6L131 46.8L128 47.1L125 47.3L122 47.5L119 47.8L116 48L113 48.2L110 48.5L107 48.7L104 49L101 49.2L98 49.4L95 49.7L92 49.9L89 50.2L86 50.5L83 50.7L80 51L77 51.2L74 51.5L71 51.8L68 52L65 52.3L62 52.6L59 52.9L56 53.2L53 53.4L50 53.7L47 54L44 54.3L41 54.6L38 54.8L35 55.1L32 55.4L29 55.6L26 55.9L23 56.1L20 56.4L17 56.6L14 56.8L11 57L8 57.2L5 57.4L2 57.6L-1 57.8Z" fill="#80fffa" stroke="#101830" stroke-width="0.55" stroke-linejoin="round"/>
<path d="M-1 19L2 19.1L5 19.1L8 19.2L11 19.2L14 19.3L17 19.4L20 19.5L23 19.6L26 19.7L29 19.8L32 20L35 20.1L38 20.2L41 20.4L44 20.5L47 20.7L50 20.8L53 21L56 21.1L59 21.3L62 21.5L65 21.6L68 21.8L71 21.9L74 22.1L77 22.3L80 22.4L83 22.6L86 22.7L89 22.9L92 23.1L95 23.2L98 23.4L101 23.5L104 23.7L107 23.9L110 24L113 24.2L116 24.4L119 24.6L122 24.7L125 24.9L128 25.1L131 25.3L134 25.5L137 25.7L140 25.9L143 26.1L146 26.3L149 26.5L152 26.7L155 27L158 27.2L161 27.5L164 27.8L167 28.2L170 28.6L173 29.1L176 29.8L176.5 29.9L177.3 30.2L177.8 30.5L178.2 30.7L178.3 30.9L178.5 31.1L178.5 31.3L178.5 31.3L178.5 31.6L178.3 31.8L178.2 32.1L177.8 32.4L177.3 32.7L176.5 33.1L176 33.3L173 34.2L170 34.9L167 35.5L164 36L161 36.5L158 36.9L155 37.3L152 37.7L149 38.1L146 38.5L143 38.9L140 39.3L137 39.6L134 40L131 40.3L128 40.7L125 41L122 41.3L119 41.7L116 42L113 42.3L110 42.7L107 43L104 43.4L101 43.7L98 44L95 44.4L92 44.7L89 45L86 45.3L83 45.7L80 46L77 46.3L74 46.7L71 47L68 47.3L65 47.7L62 48L59 48.4L56 48.7L53 49.1L50 49.4L47 49.7L44 50.1L41 50.4L38 50.7L35 51L32 51.3L29 51.6L26 51.9L23 52.2L20 52.5L17 52.8L14 53L11 53.3L8 53.5L5 53.7L2 53.9L-1 54.1Z" fill="#80ff78" stroke="#101830" stroke-width="0.55" stroke-linejoin="round"/>
<path d="M-1 21.5L2 21.6L5 21.6L8 21.7L11 21.8L14 21.9L17 22L20 22.2L23 22.3L26 22.5L29 22.6L32 22.8L35 23L38 23.2L41 23.4L44 23.6L47 23.8L50 24.1L53 24.3L56 24.5L59 24.8L62 25.1L65 25.3L68 25.6L71 25.9L74 26.2L77 26.5L80 26.8L83 27.1L86 27.5L89 27.9L92 28.3L95 28.8L98 29.4L101 30.2L102.4 30.7L103.2 31L103.7 31.3L104 31.6L104 31.6L104.2 31.9L104.4 32.1L104.4 32.4L104.4 32.4L104.4 32.7L104.2 33.1L104 33.4L104 33.4L103.7 33.8L103.2 34.2L102.4 34.7L101 35.3L98 36.4L95 37.3L92 38L89 38.7L86 39.3L83 39.9L80 40.4L77 41L74 41.5L71 42L68 42.5L65 43L62 43.4L59 43.9L56 44.4L53 44.8L50 45.3L47 45.7L44 46.1L41 46.5L38 46.9L35 47.3L32 47.7L29 48L26 48.4L23 48.7L20 49.1L17 49.4L14 49.7L11 49.9L8 50.2L5 50.5L2 50.7L-1 50.9Z" fill="#80ff28" stroke="#101830" stroke-width="0.55" stroke-linejoin="round"/>
<path d="M-1 23.9L2 24L5 24.1L8 24.2L11 24.4L14 24.5L17 24.7L20 24.9L23 25.1L26 25.3L29 25.6L32 25.8L35 26.1L38 26.4L41 26.8L44 27.1L47 27.5L50 28L53 28.5L56 29L59 29.7L62 30.7L63 31.1L63.8 31.5L64.3 31.9L64.7 32.2L64.8 32.5L65 32.8L65 33.1L65 33.1L65 33.5L64.8 33.9L64.7 34.2L64.3 34.7L63.8 35.2L63 35.7L62 36.3L59 37.6L56 38.6L53 39.5L50 40.3L47 41L44 41.6L41 42.2L38 42.8L35 43.3L32 43.8L29 44.3L26 44.8L23 45.2L20 45.6L17 46L14 46.4L11 46.7L8 47L5 47.3L2 47.6L-1 47.8Z" fill="#ffff30" stroke="#101830" stroke-width="0.55" stroke-linejoin="round"/>
<path d="M-1 26.5L2 26.6L5 26.8L8 27L11 27.2L14 27.4L17 27.7L20 28L23 28.4L26 28.9L29 29.4L32 30L35 30.9L36.7 31.5L37.5 32L38 32.3L38 32.3L38.4 32.7L38.6 33L38.7 33.3L38.7 33.6L38.7 33.6L38.7 34L38.6 34.4L38.4 34.8L38 35.2L38 35.2L37.5 35.7L36.7 36.3L35 37.3L32 38.5L29 39.4L26 40.2L23 40.9L20 41.6L17 42.1L14 42.7L11 43.1L8 43.5L5 43.9L2 44.3L-1 44.5Z" fill="#d87020" stroke="#101830" stroke-width="0.55" stroke-linejoin="round"/>
<path d="M-1 29.9L2 30.1L5 30.5L8 31L11 31.7L12.7 32.2L13.5 32.6L14 33L14 33L14.4 33.3L14.6 33.5L14.7 33.8L14.7 34.1L14.7 34.1L14.7 34.5L14.6 34.8L14.4 35.2L14 35.6L14 35.6L13.5 36L12.7 36.6L11 37.4L8 38.4L5 39.2L2 39.8L-1 40.3Z" fill="#cc181e" stroke="#101830" stroke-width="0.55" stroke-linejoin="round"/>
<path d="M-1 110.1L2 109.6L5 109.1L8 108.7L11 108.2L14 107.8L17 107.4L20 107L23 106.6L26 106.1L29 105.8L32 105.4L35 105L38 104.6L41 104.2L44 103.9L47 103.5L50 103.1L53 102.8L56 102.4L59 102.1L62 101.8L65 101.4L68 101.1L71 100.8L74 100.5L77 100.2L80 99.9L83 99.7L86 99.4L89 99.2L92 98.9L95 98.7L98 98.4L101 98.2L104 98L107 97.8L110 97.6L113 97.4L116 97.2L119 97L122 96.9L125 96.7L128 96.5L131 96.4L134 96.2L137 96.1L140 95.9L143 95.8L146 95.7L149 95.5L152 95.4L155 95.3L158 95.2L161 95.1L164 95L167 94.9L170 94.8L173 94.7L176 94.6L179 94.5L182 94.5L185 94.4L188 94.3L191 94.3L194 94.2L197 94.2L200 94.1L203 94.1L206 94.1L209 94L212 94L215 94L218 94L220.2 94L220.2 142L218 142L215 142L212 142L209 142L206 142L203 142L200 142L197 142L194 142L191 142L188 142L185 142L182 142L179 142L176 141.9L173 141.9L170 141.9L167 141.9L164 141.9L161 141.9L158 141.9L155 141.8L152 141.8L149 141.8L146 141.8L143 141.7L140 141.7L137 141.7L134 141.7L131 141.6L128 141.6L125 141.6L122 141.5L119 141.5L116 141.5L113 141.4L110 141.4L107 141.3L104 141.3L101 141.2L98 141.2L95 141.1L92 141.1L89 141L86 140.9L83 140.9L80 140.8L77 140.7L74 140.6L71 140.5L68 140.4L65 140.3L62 140.2L59 140.1L56 140L53 139.8L50 139.7L47 139.6L44 139.5L41 139.3L38 139.2L35 139.1L32 138.9L29 138.8L26 138.7L23 138.5L20 138.4L17 138.2L14 138.1L11 137.9L8 137.7L5 137.6L2 137.4L-1 137.2Z" fill="#4466fa" stroke="#101830" stroke-width="0.55" stroke-linejoin="round"/>
<path d="M-1 122.4L2 120.4L5 119.2L8 118.2L11 117.3L14 116.5L17 115.8L20 115.1L23 114.5L26 113.9L29 113.3L32 112.8L35 112.3L38 111.7L41 111.3L44 110.8L47 110.3L50 109.8L53 109.4L56 109L59 108.5L62 108.1L65 107.7L68 107.3L71 107L74 106.6L77 106.3L80 106L83 105.6L86 105.3L89 105.1L92 104.8L95 104.5L98 104.3L101 104L104 103.8L107 103.5L110 103.3L113 103.1L116 102.9L119 102.7L122 102.5L125 102.3L128 102.1L131 102L134 101.8L137 101.6L140 101.5L143 101.3L146 101.2L149 101L152 100.9L155 100.8L158 100.6L161 100.5L164 100.4L167 100.3L170 100.2L173 100.1L176 100L179 99.9L182 99.8L185 99.8L188 99.7L191 99.6L194 99.6L197 99.5L200 99.5L203 99.4L206 99.4L209 99.3L212 99.3L215 99.3L218 99.2L220.2 99.2L220.2 137.8L218 137.8L215 137.8L212 137.8L209 137.7L206 137.7L203 137.7L200 137.7L197 137.7L194 137.7L191 137.6L188 137.6L185 137.6L182 137.6L179 137.5L176 137.5L173 137.5L170 137.5L167 137.4L164 137.4L161 137.4L158 137.3L155 137.3L152 137.2L149 137.2L146 137.2L143 137.1L140 137.1L137 137L134 137L131 136.9L128 136.9L125 136.8L122 136.8L119 136.7L116 136.6L113 136.6L110 136.5L107 136.4L104 136.4L101 136.3L98 136.2L95 136.1L92 136L89 135.9L86 135.8L83 135.7L80 135.6L77 135.4L74 135.3L71 135.1L68 135L65 134.8L62 134.6L59 134.4L56 134.2L53 134L50 133.8L47 133.6L44 133.3L41 133.1L38 132.9L35 132.6L32 132.3L29 132L26 131.7L23 131.4L20 131L17 130.6L14 130.2L11 129.7L8 129.1L5 128.4L2 127.5L-1 125.9Z" fill="#80fffa" stroke="#101830" stroke-width="0.55" stroke-linejoin="round"/>
<path d="M42.6 122.8L42.6 122.4L42.8 122L43 121.6L43.3 121.1L43.8 120.6L44.6 120L45.6 119.4L48.6 118.1L51.6 117.1L54.6 116.2L57.6 115.4L60.6 114.7L63.6 114L66.6 113.4L69.6 112.9L72.6 112.4L75.6 111.9L78.6 111.4L81.6 111L84.6 110.6L87.6 110.3L90.6 109.9L93.6 109.6L96.6 109.3L99.6 108.9L102.6 108.6L105.6 108.4L108.6 108.1L111.6 107.8L114.6 107.6L117.6 107.3L120.6 107.1L123.6 106.9L126.6 106.7L129.6 106.5L132.6 106.3L135.6 106.1L138.6 105.9L141.6 105.7L144.6 105.5L147.6 105.4L150.6 105.2L153.6 105L156.6 104.9L159.6 104.8L162.6 104.6L165.6 104.5L168.6 104.4L171.6 104.3L174.6 104.2L177.6 104.1L180.6 104L183.6 103.9L186.6 103.8L189.6 103.7L192.6 103.6L195.6 103.5L198.6 103.5L201.6 103.4L204.6 103.4L207.6 103.3L210.6 103.3L213.6 103.2L216.6 103.2L219.6 103.1L220.2 103.1L220.2 134.7L219.6 134.7L216.6 134.6L213.6 134.6L210.6 134.6L207.6 134.5L204.6 134.5L201.6 134.5L198.6 134.4L195.6 134.4L192.6 134.4L189.6 134.3L186.6 134.3L183.6 134.2L180.6 134.2L177.6 134.2L174.6 134.1L171.6 134.1L168.6 134L165.6 134L162.6 133.9L159.6 133.9L156.6 133.8L153.6 133.8L150.6 133.7L147.6 133.6L144.6 133.6L141.6 133.5L138.6 133.4L135.6 133.3L132.6 133.3L129.6 133.2L126.6 133.1L123.6 133L120.6 132.9L117.6 132.8L114.6 132.7L111.6 132.6L108.6 132.5L105.6 132.4L102.6 132.3L99.6 132.1L96.6 132L93.6 131.8L90.6 131.7L87.6 131.5L84.6 131.3L81.6 131.1L78.6 130.9L75.6 130.6L72.6 130.4L69.6 130.1L66.6 129.7L63.6 129.4L60.6 128.9L57.6 128.5L54.6 128L51.6 127.3L48.6 126.6L45.6 125.6L44.6 125.1L43.8 124.6L43.3 124.2L43 123.8L42.8 123.5L42.6 123.2L42.6 122.8Z" fill="#80ff78" stroke="#101830" stroke-width="0.55" stroke-linejoin="round"/>
<path d="M79.5 121.8L79.5 121.4L79.7 121.1L79.8 120.7L80.2 120.3L80.7 119.9L81.5 119.3L82.5 118.8L85.5 117.7L88.5 116.8L91.5 116.1L94.5 115.4L97.5 114.9L100.5 114.4L103.5 113.9L106.5 113.5L109.5 113.1L112.5 112.7L115.5 112.4L118.5 112L121.5 111.7L124.5 111.4L127.5 111.1L130.5 110.9L133.5 110.6L136.5 110.3L139.5 110.1L142.5 109.9L145.5 109.7L148.5 109.5L151.5 109.3L154.5 109.1L157.5 108.9L160.5 108.7L163.5 108.6L166.5 108.4L169.5 108.2L172.5 108.1L175.5 108L178.5 107.8L181.5 107.7L184.5 107.6L187.5 107.5L190.5 107.4L193.5 107.3L196.5 107.2L199.5 107.1L202.5 107L205.5 107L208.5 106.9L211.5 106.8L214.5 106.8L217.5 106.7L220.2 106.7L220.2 131.8L217.5 131.8L214.5 131.7L211.5 131.7L208.5 131.6L205.5 131.6L202.5 131.5L199.5 131.5L196.5 131.4L193.5 131.4L190.5 131.3L187.5 131.2L184.5 131.2L181.5 131.1L178.5 131L175.5 131L172.5 130.9L169.5 130.8L166.5 130.7L163.5 130.7L160.5 130.6L157.5 130.5L154.5 130.4L151.5 130.3L148.5 130.2L145.5 130.1L142.5 130L139.5 129.9L136.5 129.7L133.5 129.6L130.5 129.5L127.5 129.3L124.5 129.1L121.5 129L118.5 128.8L115.5 128.6L112.5 128.4L109.5 128.2L106.5 128L103.5 127.7L100.5 127.4L97.5 127.1L94.5 126.7L91.5 126.3L88.5 125.8L85.5 125.2L82.5 124.3L81.5 123.9L80.7 123.5L80.2 123.1L79.8 122.8L79.7 122.5L79.5 122.2L79.5 121.8Z" fill="#80ff28" stroke="#101830" stroke-width="0.55" stroke-linejoin="round"/>
<path d="M125.7 121L125.7 120.7L125.9 120.4L126 120.1L126.4 119.8L126.9 119.4L127.7 119L128.7 118.5L131.7 117.6L134.7 116.9L137.7 116.3L140.7 115.8L143.7 115.4L146.7 115L149.7 114.6L152.7 114.2L155.7 113.9L158.7 113.6L161.7 113.4L164.7 113.1L167.7 112.9L170.7 112.7L173.7 112.4L176.7 112.2L179.7 112.1L182.7 111.9L185.7 111.7L188.7 111.6L191.7 111.4L194.7 111.3L197.7 111.2L200.7 111L203.7 110.9L206.7 110.8L209.7 110.7L212.7 110.6L215.7 110.5L218.7 110.5L220.2 110.4L220.2 128.8L218.7 128.8L215.7 128.7L212.7 128.6L209.7 128.6L206.7 128.5L203.7 128.4L200.7 128.3L197.7 128.2L194.7 128.1L191.7 128L188.7 127.9L185.7 127.8L182.7 127.7L179.7 127.6L176.7 127.4L173.7 127.3L170.7 127.2L167.7 127L164.7 126.9L161.7 126.7L158.7 126.5L155.7 126.3L152.7 126.1L149.7 125.9L146.7 125.6L143.7 125.4L140.7 125.1L137.7 124.7L134.7 124.3L131.7 123.7L128.7 123L127.7 122.7L126.9 122.3L126.4 122L126 121.8L125.9 121.5L125.7 121.3L125.7 121Z" fill="#ffff30" stroke="#101830" stroke-width="0.55" stroke-linejoin="round"/>
<path d="M190.2 120.6L190.2 120.3L190.4 120.1L190.6 119.9L190.9 119.6L191.4 119.4L192.2 119L193.2 118.7L196.2 118L199.2 117.5L202.2 117.1L205.2 116.8L208.2 116.5L211.2 116.2L214.2 116L217.2 115.8L220.2 115.6L220.2 115.6L220.2 124.7L220.2 124.7L217.2 124.5L214.2 124.3L211.2 124.1L208.2 123.9L205.2 123.7L202.2 123.4L199.2 123L196.2 122.6L193.2 122.1L192.2 121.8L191.4 121.5L190.9 121.3L190.6 121.1L190.4 120.9L190.2 120.8L190.2 120.6Z" fill="#d87020" stroke="#101830" stroke-width="0.55" stroke-linejoin="round"/>
</g>
<rect x="0.15" y="0" width="219.15" height="154.70" fill="none" stroke="#202030" stroke-width="0.5"/>
<path d="M0.15 -0.10h-3.2M0.15 19.26h-1.6M0.15 38.62h-3.2M0.15 57.99h-1.6M0.15 77.35h-3.2M0.15 96.71h-1.6M0.15 116.08h-3.2M0.15 135.44h-1.6M0.15 154.80h-3.2M23.65 154.70v1.5M46.60 154.70v2.6M69.55 154.70v1.5M92.50 154.70v2.6M115.45 154.70v1.5M138.40 154.70v2.6M161.35 154.70v1.5M184.30 154.70v2.6M207.25 154.70v1.5" stroke="#222" stroke-width="0.8" fill="none"/>
</g>
<g transform="translate(320.50 181.80)">
<g clip-path="url(#pc1)">
<rect x="0" y="0" width="219.30" height="154.70" fill="#2a00f2"/>
<path d="M-1 12L2 12L5 12L8 12.1L11 12.1L14 12.1L17 12.2L20 12.2L23 12.3L26 12.3L29 12.4L32 12.5L35 12.5L38 12.6L41 12.7L44 12.8L47 12.8L50 12.9L53 13L56 13.1L59 13.1L62 13.2L65 13.3L68 13.4L71 13.4L74 13.5L77 13.6L80 13.6L83 13.7L86 13.8L89 13.8L92 13.9L95 14L98 14L101 14.1L104 14.1L107 14.2L110 14.3L113 14.3L116 14.4L119 14.4L122 14.5L125 14.5L128 14.6L131 14.6L134 14.7L137 14.7L140 14.8L143 14.8L146 14.9L149 14.9L152 15L155 15L158 15L161 15.1L164 15.1L167 15.2L170 15.2L173 15.2L176 15.3L179 15.3L182 15.3L185 15.4L188 15.4L191 15.5L194 15.5L197 15.5L200 15.6L203 15.6L206 15.7L209 15.7L212 15.8L215 15.8L218 15.9L220.2 16L220.2 48.2L218 48.3L215 48.5L212 48.7L209 48.9L206 49L203 49.2L200 49.4L197 49.6L194 49.8L191 49.9L188 50.1L185 50.3L182 50.5L179 50.6L176 50.8L173 51L170 51.2L167 51.3L164 51.5L161 51.7L158 51.9L155 52L152 52.2L149 52.4L146 52.6L143 52.8L140 53L137 53.2L134 53.4L131 53.6L128 53.8L125 54L122 54.2L119 54.4L116 54.6L113 54.8L110 55L107 55.2L104 55.4L101 55.6L98 55.8L95 56L92 56.2L89 56.5L86 56.7L83 56.9L80 57.1L77 57.4L74 57.6L71 57.8L68 58.1L65 58.3L62 58.5L59 58.8L56 59L53 59.2L50 59.5L47 59.7L44 60L41 60.2L38 60.4L35 60.7L32 60.9L29 61.1L26 61.3L23 61.6L20 61.8L17 62L14 62.2L11 62.4L8 62.6L5 62.7L2 62.9L-1 63Z" fill="#4466fa" stroke="#101830" stroke-width="0.55" stroke-linejoin="round"/>
<path d="M-1 16L2 16L5 16L8 16.1L11 16.1L14 16.2L17 16.3L20 16.3L23 16.4L26 16.5L29 16.6L32 16.7L35 16.8L38 16.9L41 17L44 17.1L47 17.2L50 17.3L53 17.4L56 17.5L59 17.6L62 17.7L65 17.9L68 18L71 18.1L74 18.2L77 18.3L80 18.4L83 18.5L86 18.6L89 18.7L92 18.8L95 18.9L98 19L101 19.1L104 19.2L107 19.3L110 19.4L113 19.5L116 19.6L119 19.7L122 19.8L125 19.9L128 19.9L131 20L134 20.1L137 20.2L140 20.3L143 20.4L146 20.5L149 20.6L152 20.7L155 20.7L158 20.8L161 20.9L164 21L167 21.1L170 21.2L173 21.2L176 21.3L179 21.4L182 21.5L185 21.6L188 21.7L191 21.8L194 21.9L197 22L200 22.1L203 22.2L206 22.3L209 22.4L212 22.5L215 22.7L218 22.8L220.2 22.9L220.2 40.1L218 40.3L215 40.5L212 40.8L209 41.1L206 41.3L203 41.5L200 41.8L197 42L194 42.2L191 42.4L188 42.6L185 42.9L182 43.1L179 43.3L176 43.5L173 43.7L170 43.9L167 44.1L164 44.3L161 44.6L158 44.8L155 45L152 45.2L149 45.4L146 45.7L143 45.9L140 46.1L137 46.4L134 46.6L131 46.8L128 47.1L125 47.3L122 47.6L119 47.8L116 48L113 48.3L110 48.5L107 48.8L104 49L101 49.3L98 49.5L95 49.8L92 50L89 50.3L86 50.6L83 50.8L80 51.1L77 51.4L74 51.6L71 51.9L68 52.2L65 52.5L62 52.8L59 53L56 53.3L53 53.6L50 53.9L47 54.1L44 54.4L41 54.7L38 55L35 55.2L32 55.5L29 55.8L26 56L23 56.3L20 56.5L17 56.8L14 57L11 57.2L8 57.4L5 57.6L2 57.8L-1 57.9Z" fill="#80fffa" stroke="#101830" stroke-width="0.55" stroke-linejoin="round"/>
<path d="M-1 18.9L2 18.9L5 19L8 19L11 19.1L14 19.2L17 19.2L20 19.3L23 19.4L26 19.6L29 19.7L32 19.8L35 19.9L38 20.1L41 20.2L44 20.4L47 20.5L50 20.7L53 20.8L56 21L59 21.1L62 21.3L65 21.5L68 21.6L71 21.8L74 21.9L77 22.1L80 22.3L83 22.4L86 22.6L89 22.8L92 22.9L95 23.1L98 23.3L101 23.4L104 23.6L107 23.8L110 24L113 24.1L116 24.3L119 24.5L122 24.7L125 24.9L128 25.1L131 25.3L134 25.5L137 25.7L140 25.9L143 26.2L146 26.4L149 26.7L152 26.9L155 27.2L158 27.5L161 27.8L164 28.2L167 28.6L170 29.1L173 29.9L173.3 30L174.1 30.3L174.6 30.5L175 30.7L175.2 31L175.3 31.1L175.3 31.4L175.3 31.4L175.3 31.6L175.2 31.9L175 32.1L174.6 32.4L174.1 32.8L173.3 33.1L173 33.3L170 34.2L167 34.9L164 35.6L161 36.1L158 36.6L155 37.1L152 37.5L149 38L146 38.4L143 38.8L140 39.2L137 39.6L134 39.9L131 40.3L128 40.7L125 41L122 41.4L119 41.7L116 42.1L113 42.4L110 42.8L107 43.1L104 43.5L101 43.8L98 44.2L95 44.5L92 44.8L89 45.2L86 45.5L83 45.8L80 46.2L77 46.5L74 46.9L71 47.2L68 47.6L65 47.9L62 48.2L59 48.6L56 48.9L53 49.2L50 49.6L47 49.9L44 50.2L41 50.6L38 50.9L35 51.2L32 51.5L29 51.8L26 52.1L23 52.4L20 52.7L17 53L14 53.2L11 53.4L8 53.7L5 53.9L2 54.1L-1 54.3Z" fill="#80ff78" stroke="#101830" stroke-width="0.55" stroke-linejoin="round"/>
<path d="M-1 21.4L2 21.4L5 21.5L8 21.5L11 21.6L14 21.7L17 21.9L20 22L23 22.1L26 22.3L29 22.4L32 22.6L35 22.8L38 23L41 23.2L44 23.4L47 23.6L50 23.8L53 24.1L56 24.3L59 24.6L62 24.8L65 25.1L68 25.4L71 25.6L74 25.9L77 26.2L80 26.6L83 26.9L86 27.2L89 27.6L92 28.1L95 28.5L98 29.1L101 29.8L103.7 30.6L104 30.7L104.5 31L105 31.3L105.4 31.6L105.6 31.8L105.7 32.1L105.7 32.4L105.7 32.4L105.7 32.7L105.6 33L105.4 33.4L105 33.8L104.5 34.2L104 34.5L103.7 34.7L101 35.8L98 36.8L95 37.6L92 38.3L89 39L86 39.6L83 40.2L80 40.8L77 41.3L74 41.8L71 42.3L68 42.8L65 43.3L62 43.7L59 44.2L56 44.7L53 45.1L50 45.5L47 45.9L44 46.4L41 46.8L38 47.2L35 47.5L32 47.9L29 48.3L26 48.6L23 49L20 49.3L17 49.6L14 49.9L11 50.2L8 50.5L5 50.7L2 50.9L-1 51.1Z" fill="#80ff28" stroke="#101830" stroke-width="0.55" stroke-linejoin="round"/>
<path d="M-1 23.7L2 23.8L5 23.9L8 24L11 24.1L14 24.3L17 24.4L20 24.6L23 24.8L26 25L29 25.3L32 25.5L35 25.8L38 26.1L41 26.5L44 26.8L47 27.2L50 27.6L53 28L56 28.6L59 29.2L62 29.9L65 30.9L65.3 31L66.1 31.5L66.6 31.8L66.9 32.2L67.1 32.4L67.3 32.7L67.3 33L67.3 33L67.3 33.5L67.1 33.8L66.9 34.2L66.6 34.6L66.1 35.1L65.3 35.7L65 35.9L62 37.3L59 38.4L56 39.2L53 40L50 40.8L47 41.4L44 42L41 42.6L38 43.2L35 43.7L32 44.2L29 44.7L26 45.1L23 45.6L20 46L17 46.3L14 46.7L11 47L8 47.3L5 47.6L2 47.9L-1 48.1Z" fill="#ffff30" stroke="#101830" stroke-width="0.55" stroke-linejoin="round"/>
<path d="M-1 26.2L2 26.3L5 26.5L8 26.6L11 26.8L14 27.1L17 27.3L20 27.6L23 28L26 28.4L29 28.9L32 29.4L35 30.1L38 31L39 31.5L39.8 31.9L40.3 32.3L40.6 32.6L40.9 32.9L41 33.2L41 33.5L41 33.5L41 34L40.9 34.4L40.6 34.7L40.3 35.2L39.8 35.7L39 36.3L38 36.9L35 38.2L32 39.2L29 40.1L26 40.8L23 41.5L20 42.1L17 42.6L14 43.1L11 43.6L8 44L5 44.3L2 44.7L-1 44.9Z" fill="#d87020" stroke="#101830" stroke-width="0.55" stroke-linejoin="round"/>
<path d="M-1 29.3L2 29.5L5 29.8L8 30.2L11 30.7L14 31.4L16 32.1L16.8 32.5L17 32.6L17.3 32.8L17.6 33.2L17.9 33.5L18 33.7L18 34L18 34L18 34.4L17.9 34.8L17.6 35.1L17.3 35.6L17 35.8L16.8 36L16 36.6L14 37.5L11 38.6L8 39.4L5 40L2 40.5L-1 41Z" fill="#cc181e" stroke="#101830" stroke-width="0.55" stroke-linejoin="round"/>
<path d="M-1 110.2L2 109.7L5 109.3L8 108.8L11 108.3L14 107.9L17 107.5L20 107L23 106.6L26 106.2L29 105.8L32 105.4L35 105L38 104.7L41 104.3L44 103.9L47 103.6L50 103.2L53 102.8L56 102.5L59 102.1L62 101.8L65 101.5L68 101.2L71 100.8L74 100.5L77 100.2L80 100L83 99.7L86 99.4L89 99.2L92 98.9L95 98.7L98 98.5L101 98.2L104 98L107 97.8L110 97.6L113 97.4L116 97.2L119 97L122 96.9L125 96.7L128 96.5L131 96.4L134 96.2L137 96L140 95.9L143 95.8L146 95.6L149 95.5L152 95.4L155 95.2L158 95.1L161 95L164 94.9L167 94.8L170 94.7L173 94.6L176 94.5L179 94.4L182 94.4L185 94.3L188 94.2L191 94.2L194 94.1L197 94.1L200 94L203 94L206 94L209 93.9L212 93.9L215 93.9L218 93.9L220.2 93.9L220.2 142.1L218 142.1L215 142.1L212 142.1L209 142.1L206 142.1L203 142.1L200 142.1L197 142.1L194 142.1L191 142.1L188 142.1L185 142L182 142L179 142L176 142L173 142L170 142L167 142L164 142L161 141.9L158 141.9L155 141.9L152 141.9L149 141.8L146 141.8L143 141.8L140 141.7L137 141.7L134 141.7L131 141.6L128 141.6L125 141.6L122 141.5L119 141.5L116 141.5L113 141.4L110 141.4L107 141.3L104 141.3L101 141.2L98 141.2L95 141.1L92 141L89 141L86 140.9L83 140.8L80 140.8L77 140.7L74 140.6L71 140.5L68 140.4L65 140.3L62 140.2L59 140L56 139.9L53 139.8L50 139.7L47 139.5L44 139.4L41 139.3L38 139.2L35 139L32 138.9L29 138.7L26 138.6L23 138.4L20 138.3L17 138.1L14 138L11 137.8L8 137.6L5 137.5L2 137.3L-1 137.1Z" fill="#4466fa" stroke="#101830" stroke-width="0.55" stroke-linejoin="round"/>
<path d="M-0.6 124.2L-0.5 123.8L-0.4 123.4L-0.2 123L0.1 122.5L0.6 122.1L1.4 121.4L2.4 120.8L5.4 119.5L8.4 118.4L11.4 117.5L14.4 116.7L17.4 115.9L20.4 115.2L23.4 114.6L26.4 114L29.4 113.4L32.4 112.8L35.4 112.3L38.4 111.8L41.4 111.3L44.4 110.8L47.4 110.3L50.4 109.9L53.4 109.4L56.4 109L59.4 108.5L62.4 108.1L65.4 107.7L68.4 107.3L71.4 107L74.4 106.6L77.4 106.3L80.4 106L83.4 105.6L86.4 105.3L89.4 105.1L92.4 104.8L95.4 104.5L98.4 104.2L101.4 104L104.4 103.8L107.4 103.5L110.4 103.3L113.4 103.1L116.4 102.9L119.4 102.7L122.4 102.5L125.4 102.3L128.4 102.1L131.4 101.9L134.4 101.7L137.4 101.6L140.4 101.4L143.4 101.2L146.4 101.1L149.4 100.9L152.4 100.8L155.4 100.7L158.4 100.5L161.4 100.4L164.4 100.3L167.4 100.2L170.4 100.1L173.4 100L176.4 99.9L179.4 99.8L182.4 99.7L185.4 99.6L188.4 99.6L191.4 99.5L194.4 99.4L197.4 99.4L200.4 99.3L203.4 99.3L206.4 99.2L209.4 99.2L212.4 99.2L215.4 99.1L218.4 99.1L220.2 99.1L220.2 137.9L218.4 137.9L215.4 137.9L212.4 137.9L209.4 137.8L206.4 137.8L203.4 137.8L200.4 137.8L197.4 137.8L194.4 137.8L191.4 137.7L188.4 137.7L185.4 137.7L182.4 137.7L179.4 137.6L176.4 137.6L173.4 137.6L170.4 137.5L167.4 137.5L164.4 137.5L161.4 137.4L158.4 137.4L155.4 137.4L152.4 137.3L149.4 137.3L146.4 137.2L143.4 137.2L140.4 137.1L137.4 137.1L134.4 137L131.4 137L128.4 136.9L125.4 136.8L122.4 136.8L119.4 136.7L116.4 136.7L113.4 136.6L110.4 136.5L107.4 136.4L104.4 136.4L101.4 136.3L98.4 136.2L95.4 136.1L92.4 136L89.4 135.9L86.4 135.8L83.4 135.7L80.4 135.5L77.4 135.4L74.4 135.3L71.4 135.1L68.4 135L65.4 134.8L62.4 134.6L59.4 134.4L56.4 134.2L53.4 134L50.4 133.8L47.4 133.5L44.4 133.3L41.4 133.1L38.4 132.8L35.4 132.5L32.4 132.3L29.4 132L26.4 131.6L23.4 131.3L20.4 130.9L17.4 130.5L14.4 130L11.4 129.5L8.4 128.9L5.4 128.2L2.4 127.1L1.4 126.6L0.6 126.1L0.1 125.7L-0.2 125.3L-0.4 125L-0.5 124.6L-0.6 124.2Z" fill="#80fffa" stroke="#101830" stroke-width="0.55" stroke-linejoin="round"/>
<path d="M43.4 122.8L43.4 122.3L43.5 122L43.8 121.6L44.1 121.1L44.6 120.6L45.4 120L46.4 119.4L49.4 118.1L52.4 117L55.4 116.1L58.4 115.4L61.4 114.7L64.4 114L67.4 113.4L70.4 112.9L73.4 112.3L76.4 111.9L79.4 111.4L82.4 111L85.4 110.6L88.4 110.2L91.4 109.9L94.4 109.5L97.4 109.2L100.4 108.9L103.4 108.6L106.4 108.3L109.4 108L112.4 107.8L115.4 107.5L118.4 107.3L121.4 107L124.4 106.8L127.4 106.6L130.4 106.4L133.4 106.2L136.4 106L139.4 105.8L142.4 105.6L145.4 105.4L148.4 105.2L151.4 105.1L154.4 104.9L157.4 104.8L160.4 104.6L163.4 104.5L166.4 104.3L169.4 104.2L172.4 104.1L175.4 104L178.4 103.9L181.4 103.8L184.4 103.7L187.4 103.6L190.4 103.5L193.4 103.4L196.4 103.4L199.4 103.3L202.4 103.3L205.4 103.2L208.4 103.1L211.4 103.1L214.4 103.1L217.4 103L220.2 103L220.2 134.8L217.4 134.8L214.4 134.7L211.4 134.7L208.4 134.7L205.4 134.6L202.4 134.6L199.4 134.6L196.4 134.5L193.4 134.5L190.4 134.5L187.4 134.4L184.4 134.4L181.4 134.3L178.4 134.3L175.4 134.3L172.4 134.2L169.4 134.2L166.4 134.1L163.4 134L160.4 134L157.4 133.9L154.4 133.8L151.4 133.8L148.4 133.7L145.4 133.6L142.4 133.6L139.4 133.5L136.4 133.4L133.4 133.3L130.4 133.2L127.4 133.1L124.4 133L121.4 133L118.4 132.9L115.4 132.7L112.4 132.6L109.4 132.5L106.4 132.4L103.4 132.3L100.4 132.1L97.4 132L94.4 131.8L91.4 131.7L88.4 131.5L85.4 131.3L82.4 131.1L79.4 130.9L76.4 130.6L73.4 130.4L70.4 130.1L67.4 129.7L64.4 129.3L61.4 128.9L58.4 128.5L55.4 127.9L52.4 127.3L49.4 126.6L46.4 125.6L45.4 125.1L44.6 124.6L44.1 124.2L43.8 123.8L43.5 123.5L43.4 123.1L43.4 122.8Z" fill="#80ff78" stroke="#101830" stroke-width="0.55" stroke-linejoin="round"/>
<path d="M80.2 121.8L80.2 121.4L80.3 121.1L80.5 120.7L80.9 120.3L81.4 119.9L82.2 119.3L83.2 118.8L86.2 117.6L89.2 116.8L92.2 116L95.2 115.4L98.2 114.8L101.2 114.3L104.2 113.8L107.2 113.4L110.2 113L113.2 112.6L116.2 112.3L119.2 111.9L122.2 111.6L125.2 111.3L128.2 111L131.2 110.8L134.2 110.5L137.2 110.2L140.2 110L143.2 109.7L146.2 109.5L149.2 109.3L152.2 109.1L155.2 108.9L158.2 108.7L161.2 108.5L164.2 108.3L167.2 108.2L170.2 108L173.2 107.9L176.2 107.7L179.2 107.6L182.2 107.5L185.2 107.4L188.2 107.3L191.2 107.2L194.2 107.1L197.2 107L200.2 106.9L203.2 106.8L206.2 106.8L209.2 106.7L212.2 106.6L215.2 106.6L218.2 106.5L220.2 106.5L220.2 132L218.2 131.9L215.2 131.9L212.2 131.8L209.2 131.8L206.2 131.7L203.2 131.7L200.2 131.6L197.2 131.6L194.2 131.5L191.2 131.5L188.2 131.4L185.2 131.4L182.2 131.3L179.2 131.2L176.2 131.2L173.2 131.1L170.2 131L167.2 130.9L164.2 130.8L161.2 130.7L158.2 130.6L155.2 130.5L152.2 130.4L149.2 130.3L146.2 130.2L143.2 130.1L140.2 129.9L137.2 129.8L134.2 129.7L131.2 129.5L128.2 129.4L125.2 129.2L122.2 129L119.2 128.9L116.2 128.7L113.2 128.5L110.2 128.3L107.2 128L104.2 127.7L101.2 127.5L98.2 127.1L95.2 126.8L92.2 126.3L89.2 125.8L86.2 125.2L83.2 124.3L82.2 123.9L81.4 123.5L80.9 123.1L80.5 122.8L80.3 122.4L80.2 122.2L80.2 121.8Z" fill="#80ff28" stroke="#101830" stroke-width="0.55" stroke-linejoin="round"/>
<path d="M125.3 121L125.3 120.7L125.4 120.4L125.6 120.1L126 119.8L126.5 119.4L127.3 119L128.3 118.5L131.3 117.6L134.3 116.8L137.3 116.2L140.3 115.7L143.3 115.2L146.3 114.8L149.3 114.4L152.3 114.1L155.3 113.7L158.3 113.4L161.3 113.1L164.3 112.9L167.3 112.6L170.3 112.4L173.3 112.1L176.3 111.9L179.3 111.8L182.3 111.6L185.3 111.4L188.3 111.3L191.3 111.1L194.3 111L197.3 110.9L200.3 110.8L203.3 110.7L206.3 110.5L209.3 110.5L212.3 110.4L215.3 110.3L218.3 110.2L220.2 110.2L220.2 129L218.3 129L215.3 128.9L212.3 128.8L209.3 128.8L206.3 128.7L203.3 128.6L200.3 128.5L197.3 128.4L194.3 128.3L191.3 128.2L188.3 128.1L185.3 128L182.3 127.9L179.3 127.8L176.3 127.7L173.3 127.6L170.3 127.4L167.3 127.3L164.3 127.1L161.3 126.9L158.3 126.7L155.3 126.5L152.3 126.3L149.3 126L146.3 125.8L143.3 125.5L140.3 125.1L137.3 124.8L134.3 124.3L131.3 123.8L128.3 123L127.3 122.7L126.5 122.3L126 122.1L125.6 121.8L125.4 121.5L125.3 121.3L125.3 121Z" fill="#ffff30" stroke="#101830" stroke-width="0.55" stroke-linejoin="round"/>
<path d="M183.7 120.6L183.7 120.3L183.9 120.1L184.1 119.9L184.4 119.6L184.9 119.3L185.7 119L186.7 118.7L189.7 118L192.7 117.5L195.7 117L198.7 116.7L201.7 116.4L204.7 116.1L207.7 115.8L210.7 115.6L213.7 115.4L216.7 115.2L219.7 115L220.2 115L220.2 125.2L219.7 125.1L216.7 125L213.7 124.8L210.7 124.6L207.7 124.4L204.7 124.2L201.7 124L198.7 123.7L195.7 123.4L192.7 123.1L189.7 122.7L186.7 122.1L185.7 121.8L184.9 121.6L184.4 121.4L184.1 121.1L183.9 121L183.7 120.8L183.7 120.6Z" fill="#d87020" stroke="#101830" stroke-width="0.55" stroke-linejoin="round"/>
</g>
<rect x="0.05" y="0" width="219.25" height="154.70" fill="none" stroke="#202030" stroke-width="0.5"/>
<path d="M0.05 -0.10h-3.2M0.05 19.26h-1.6M0.05 38.62h-3.2M0.05 57.99h-1.6M0.05 77.35h-3.2M0.05 96.71h-1.6M0.05 116.08h-3.2M0.05 135.44h-1.6M0.05 154.80h-3.2M23.65 154.70v1.5M46.60 154.70v2.6M69.55 154.70v1.5M92.50 154.70v2.6M115.45 154.70v1.5M138.40 154.70v2.6M161.35 154.70v1.5M184.30 154.70v2.6M207.25 154.70v1.5" stroke="#222" stroke-width="0.8" fill="none"/>
</g>
</svg>
<div class="t yt" style="left:-5.5px;top:-1.3px">-1.0</div>
<div class="t yt" style="left:-5.5px;top:37.4px">-0.5</div>
<div class="t yt" style="left:-5.5px;top:76.2px">0.0</div>
<div class="t yt" style="left:-5.5px;top:114.9px">0.5</div>
<div class="t yt" style="left:-5.5px;top:153.6px">1.0</div>
<div class="t xt" style="left:65.8px;top:165.0px">0.2</div>
<div class="t xt" style="left:111.7px;top:165.0px">0.4</div>
<div class="t xt" style="left:157.6px;top:165.0px">0.6</div>
<div class="t xt" style="left:203.5px;top:165.0px">0.8</div>
<div class="t lab" style="left:263.0px;top:21.2px">τ=0</div>
<div class="t yl" style="left:-0.7px;top:95.6px">υ<sub>x</sub>/c</div>
<div class="t yt" style="left:275.8px;top:-1.3px">-1.0</div>
<div class="t yt" style="left:275.8px;top:37.4px">-0.5</div>
<div class="t yt" style="left:275.8px;top:76.2px">0.0</div>
<div class="t yt" style="left:275.8px;top:114.9px">0.5</div>
<div class="t yt" style="left:275.8px;top:153.6px">1.0</div>
<div class="t xt" style="left:347.1px;top:165.0px">0.2</div>
<div class="t xt" style="left:393.0px;top:165.0px">0.4</div>
<div class="t xt" style="left:438.9px;top:165.0px">0.6</div>
<div class="t xt" style="left:484.8px;top:165.0px">0.8</div>
<div class="t lab" style="left:541.8px;top:19.7px">τ=πλ/c*0.0025</div>
<div class="t yl" style="left:280.5px;top:95.6px">υ<sub>x</sub>/c</div>
<div class="t yt" style="left:-5.5px;top:175.5px">-1.0</div>
<div class="t yt" style="left:-5.5px;top:214.2px">-0.5</div>
<div class="t yt" style="left:-5.5px;top:253.0px">0.0</div>
<div class="t yt" style="left:-5.5px;top:291.7px">0.5</div>
<div class="t yt" style="left:-5.5px;top:330.4px">1.0</div>
<div class="t xt" style="left:65.8px;top:341.8px">0.2</div>
<div class="t xt" style="left:111.7px;top:341.8px">0.4</div>
<div class="t xt" style="left:157.6px;top:341.8px">0.6</div>
<div class="t xt" style="left:203.5px;top:341.8px">0.8</div>
<div class="t lab" style="left:257.6px;top:196.7px;z-index:0;letter-spacing:0.10px">τ=πλ/c*0.0050</div>
<div class="t yl" style="left:-0.7px;top:272.4px">υ<sub>x</sub>/c</div>
<div class="t yt" style="left:275.8px;top:175.5px">-1.0</div>
<div class="t yt" style="left:275.8px;top:214.2px">-0.5</div>
<div class="t yt" style="left:275.8px;top:253.0px">0.0</div>
<div class="t yt" style="left:275.8px;top:291.7px">0.5</div>
<div class="t yt" style="left:275.8px;top:330.4px">1.0</div>
<div class="t xt" style="left:347.1px;top:341.8px">0.2</div>
<div class="t xt" style="left:393.0px;top:341.8px">0.4</div>
<div class="t xt" style="left:438.9px;top:341.8px">0.6</div>
<div class="t xt" style="left:484.8px;top:341.8px">0.8</div>
<div class="t lab" style="left:543.9px;top:197.1px">τ=πλ/c*0.0075</div>
<div class="t yl" style="left:280.5px;top:272.4px">υ<sub>x</sub>/c</div>
<div class="t ax" style="left:145.0px;top:175.2px;height:6.5px;font-size:7.0px;overflow:hidden;transform:scaleX(1.20)">ξ/λ</div>
<div class="t ax" style="left:427.2px;top:170.3px;height:21.0px;font-size:8.5px;overflow:hidden;transform:scaleX(1.23)">ξ/λ</div>
<div class="t ax" style="left:141.5px;top:355.4px;height:20.8px;font-size:7.0px;overflow:hidden;transform:scaleX(1.44)">ξ/λ</div>
<div class="t ax" style="left:431.6px;top:350.7px;height:20.9px;font-size:7.5px;overflow:hidden;transform:scaleX(1.38)">ξ/λ</div>
<div class="sw" style="left:37.1px;top:360.5px;background:#cc181e"></div>
<div class="t lg" style="left:83.7px;top:361.4px">52.50  --  60.00;</div>
<div class="sw" style="left:199.4px;top:360.5px;background:#d87020"></div>
<div class="t lg" style="left:246.0px;top:361.4px">45.00  --  52.50;</div>
<div class="sw" style="left:361.6px;top:360.5px;background:#ffff30"></div>
<div class="t lg" style="left:408.2px;top:361.4px">37.50  --  45.00</div>
<div class="sw" style="left:37.1px;top:382.7px;background:#80ff28"></div>
<div class="t lg" style="left:83.7px;top:383.6px">30.00  --  37.50;</div>
<div class="sw" style="left:199.4px;top:382.7px;background:#80ff78"></div>
<div class="t lg" style="left:246.0px;top:383.6px">22.50  --  30.00;</div>
<div class="sw" style="left:361.6px;top:382.7px;background:#80fffa"></div>
<div class="t lg" style="left:408.2px;top:383.6px">15.00  --  22.50</div>
<div class="sw" style="left:37.1px;top:404.9px;background:#4466fa"></div>
<div class="t lg" style="left:83.7px;top:405.8px">7.500  --  15.00;</div>
<div class="sw" style="left:199.4px;top:404.9px;background:#2a00f2"></div>
<div class="t lg" style="left:246.0px;top:405.8px">0  --  7.500</div>
</body></html>
